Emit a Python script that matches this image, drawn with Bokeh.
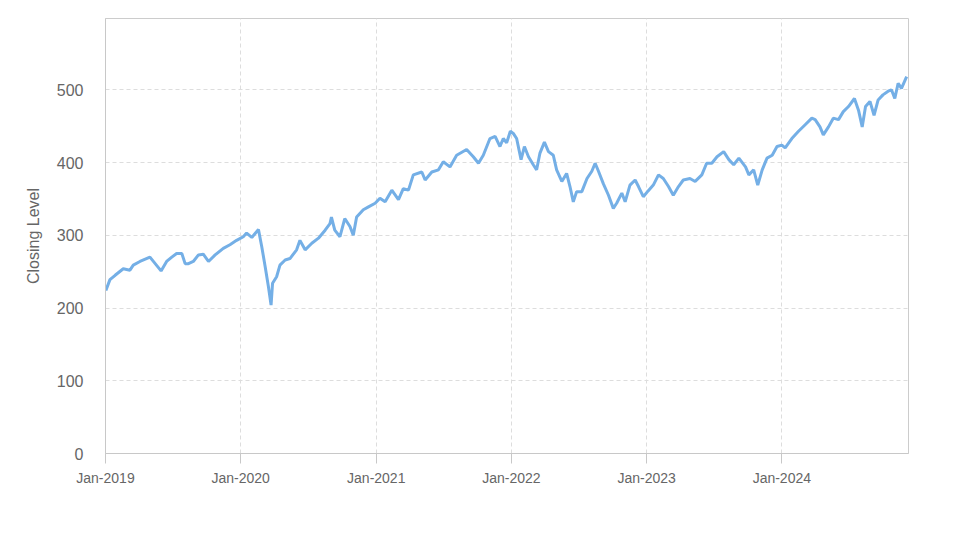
import pandas as pd
from bokeh.plotting import figure
from bokeh.models import FixedTicker, DatetimeTickFormatter, Range1d, ColumnDataSource
from bokeh.embed import file_html
from bokeh.resources import INLINE

dates = [
    "2019-01-02", "2019-01-13", "2019-01-27", "2019-02-18", "2019-03-08", "2019-03-17",
    "2019-04-04", "2019-05-01", "2019-05-31", "2019-06-15", "2019-06-29", "2019-07-12",
    "2019-07-26", "2019-08-04", "2019-08-13", "2019-08-26", "2019-09-09", "2019-09-22",
    "2019-10-06", "2019-10-24", "2019-11-15", "2019-12-03", "2019-12-21",
    "2020-01-08", "2020-01-17", "2020-01-31", "2020-02-18", "2020-02-27", "2020-03-07",
    "2020-03-16", "2020-03-23", "2020-03-27", "2020-04-07", "2020-04-16", "2020-04-30",
    "2020-05-13", "2020-05-31", "2020-06-09", "2020-06-23", "2020-07-11", "2020-07-29",
    "2020-08-16", "2020-08-29", "2020-09-02", "2020-09-11", "2020-09-25", "2020-10-08",
    "2020-10-22", "2020-10-31", "2020-11-09", "2020-11-27", "2020-12-11", "2020-12-29",
    "2021-01-11", "2021-01-25", "2021-02-12", "2021-03-02", "2021-03-15", "2021-03-29",
    "2021-04-11", "2021-05-04", "2021-05-13", "2021-05-31", "2021-06-18", "2021-07-01",
    "2021-07-19", "2021-08-06", "2021-09-02", "2021-09-20", "2021-10-04", "2021-10-17",
    "2021-11-04", "2021-11-18", "2021-12-01", "2021-12-10", "2021-12-19", "2021-12-29",
    "2022-01-06", "2022-01-15", "2022-01-27", "2022-02-05", "2022-02-16", "2022-03-01",
    "2022-03-10", "2022-03-19", "2022-03-31", "2022-04-11", "2022-04-24", "2022-05-03",
    "2022-05-17", "2022-05-30", "2022-06-08", "2022-06-17", "2022-06-26", "2022-07-10",
    "2022-07-24", "2022-08-06", "2022-08-15", "2022-08-24", "2022-09-06", "2022-09-20",
    "2022-10-03", "2022-10-12", "2022-10-26", "2022-11-04", "2022-11-17", "2022-12-01",
    "2022-12-10", "2022-12-23",
    "2023-01-05", "2023-01-19", "2023-02-02", "2023-02-15", "2023-03-01", "2023-03-14",
    "2023-03-28", "2023-04-10", "2023-04-28", "2023-05-12", "2023-05-30", "2023-06-12",
    "2023-06-26", "2023-07-10", "2023-07-28", "2023-08-11", "2023-08-24", "2023-09-07",
    "2023-09-25", "2023-10-04", "2023-10-17", "2023-10-28", "2023-11-09", "2023-11-22",
    "2023-12-06", "2023-12-19",
    "2024-01-01", "2024-01-10", "2024-01-28", "2024-02-15", "2024-03-04", "2024-03-22",
    "2024-03-31", "2024-04-13", "2024-04-22", "2024-05-06", "2024-05-19", "2024-06-02",
    "2024-06-15", "2024-06-29", "2024-07-15", "2024-07-26", "2024-08-05", "2024-08-14",
    "2024-08-26", "2024-09-06", "2024-09-17", "2024-09-30", "2024-10-14", "2024-10-23",
    "2024-11-01", "2024-11-10", "2024-11-19", "2024-12-03",
]

closing = [
    224, 239, 245, 254, 252, 259,
    264, 270, 251, 264, 270, 275,
    275, 261, 261, 264, 273, 274,
    264, 273, 282, 287, 293,
    298, 303, 297, 308, 284, 257,
    229, 204, 234, 243, 259, 266,
    268, 280, 293, 280, 289, 296,
    307, 316, 325, 307, 298, 323,
    312, 300, 325, 335, 339, 344,
    351, 346, 362, 349, 364, 362,
    383, 387, 376, 387, 390, 401,
    394, 410, 418, 408, 399, 410,
    433, 436, 422, 433, 427, 443,
    440, 433, 404, 422, 408, 397,
    390, 413, 428, 415, 410, 390,
    374, 385, 367, 346, 360, 360,
    378, 388, 399, 388, 371, 355,
    337, 344, 358, 346, 369, 376,
    367, 353,
    361, 369, 383, 378, 367, 355,
    367, 376, 378, 374, 383, 399,
    399, 408, 415, 404, 397, 406,
    394, 383, 390, 369, 390, 406,
    410, 422,
    424, 420, 433, 443, 452, 461,
    459, 449, 438, 449, 461, 459,
    470, 477, 488, 472, 449, 477,
    484, 465, 486, 493, 498, 500,
    488, 509, 502, 518,
]

y_ticks = [0, 100, 200, 300, 400, 500]
x_tick_dates = ["2019-01-01", "2020-01-01", "2021-01-01", "2022-01-01", "2023-01-01", "2024-01-01"]
y_axis_title = "Closing Level"

src = ColumnDataSource(dict(date=pd.to_datetime(dates), close=closing))

p = figure(
    width=965, height=539,
    x_axis_type="datetime",
    output_backend="svg", toolbar_location=None,
    x_range=Range1d(pd.Timestamp("2019-01-01"), pd.Timestamp("2024-12-08")),
    y_range=Range1d(0, 598),
    min_border_left=105, min_border_right=57, min_border_top=18, min_border_bottom=86,
)
p.background_fill_color = "white"
p.border_fill_color = "white"
p.outline_line_color = "#cccccc"
p.outline_line_width = 1

p.line("date", "close", source=src, line_color="#74afe6", line_width=3)

x_ticks_ms = [pd.Timestamp(d).timestamp() * 1000 for d in x_tick_dates]
xt = FixedTicker(ticks=x_ticks_ms)
p.xaxis.ticker = xt
p.xgrid.ticker = xt
p.xaxis.formatter = DatetimeTickFormatter(
    years="%b-%Y", months="%b-%Y", days="%b-%Y", hours="%b-%Y",
    minutes="%b-%Y", seconds="%b-%Y", milliseconds="%b-%Y", microseconds="%b-%Y",
)
yt = FixedTicker(ticks=y_ticks)
p.yaxis.ticker = yt
p.ygrid.ticker = yt

for ax in (p.xaxis, p.yaxis):
    ax.axis_line_color = "#c8c8c8"
    ax.minor_tick_line_color = None
    ax.major_label_text_color = "#666666"
    ax.major_label_text_font = "Liberation Sans"

p.xaxis.major_tick_out = 10
p.xaxis.major_tick_in = 0
p.xaxis.major_tick_line_color = "#c8c8c8"
p.xaxis.major_label_text_font_size = "14px"
p.xaxis.major_label_standoff = 6

p.yaxis.major_tick_out = 0
p.yaxis.major_tick_in = 0
p.yaxis.major_tick_line_color = None
p.yaxis.major_label_text_font_size = "16px"
p.yaxis.major_label_standoff = 22
p.yaxis.axis_label = y_axis_title
p.yaxis.axis_label_text_font = "Liberation Sans"
p.yaxis.axis_label_text_font_style = "normal"
p.yaxis.axis_label_text_font_size = "16px"
p.yaxis.axis_label_text_color = "#666666"
p.yaxis.axis_label_standoff = 12

for g in (p.xgrid, p.ygrid):
    g.grid_line_color = "#dddddd"
    g.grid_line_dash = "4 3"
    g.grid_line_width = 1

open("out.html", "w").write(file_html(p, INLINE))
